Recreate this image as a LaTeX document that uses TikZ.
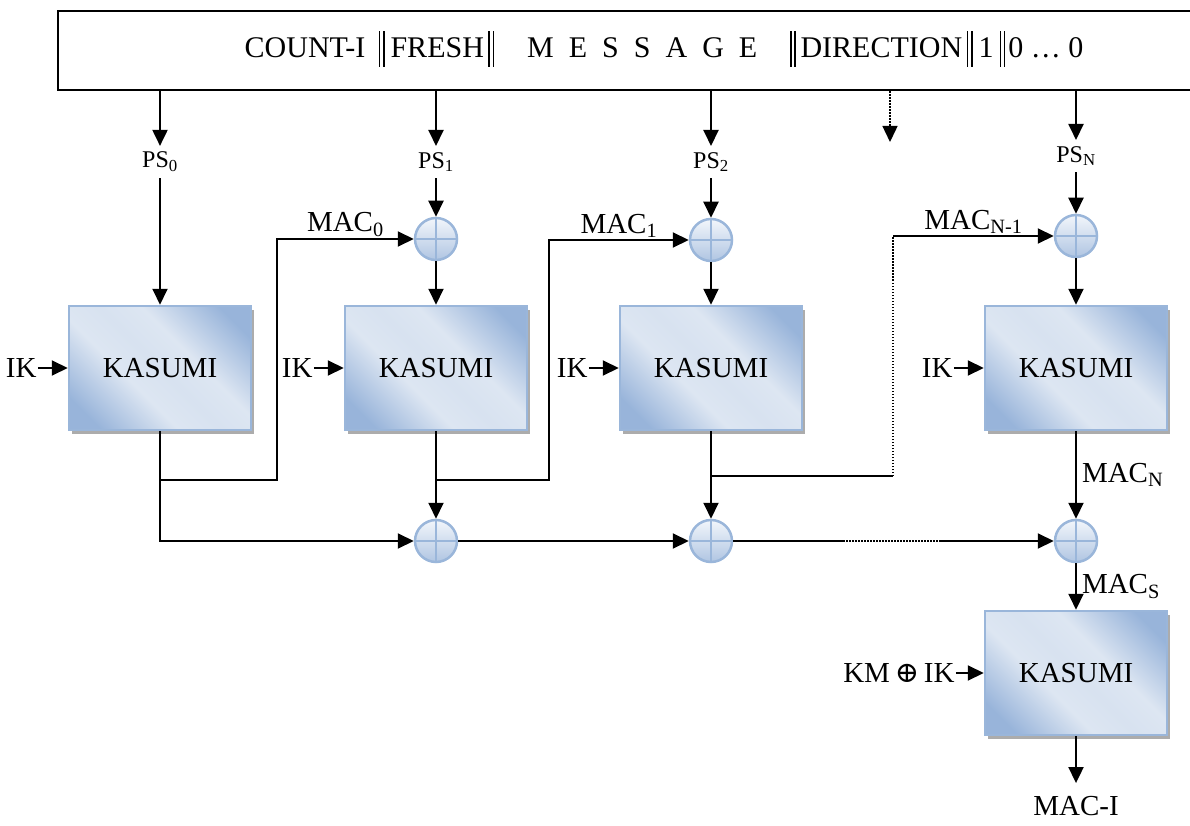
\documentclass[tikz,border=0pt]{standalone}
\usepackage{fontspec}
\setmainfont{Liberation Serif}
\newfontfamily\oplusfont{DejaVu Serif}
\usetikzlibrary{positioning,arrows.meta,shadows}
\definecolor{kasedge}{HTML}{9AB6DA}
\definecolor{kasdark}{HTML}{98B4DA}
\definecolor{kaslight}{HTML}{DDE6F2}
\definecolor{xortop}{HTML}{F2F6FB}
\definecolor{xorbot}{HTML}{B0C5E2}
\pgfdeclarehorizontalshading{kasumishade}{100bp}{color(0bp)=(kasdark); color(22bp)=(kasdark); color(40bp)=(kaslight); color(50bp)=(kaslight!92!kasdark); color(60bp)=(kaslight); color(78bp)=(kasdark); color(100bp)=(kasdark)}
\newcommand{\catbar}{\rule[-9pt]{1.6pt}{36pt}\hspace{2.6pt}\rule[-9pt]{1.6pt}{36pt}}
\begin{document}
\begin{tikzpicture}[
                      x=1pt, y=-1pt,
                      lbl/.style = {font=\fontsize{29}{34}\selectfont, inner sep=1pt},
                      pslbl/.style = {font=\fontsize{24}{28}\selectfont, inner sep=6pt},
                      kasumi/.style = {rectangle, draw=kasedge, line width=2.5pt, shade, shading=kasumishade, shading angle=45,
                                       minimum width=182pt, minimum height=124pt, font=\fontsize{29}{34}\selectfont,
                                       drop shadow={shadow xshift=3pt, shadow yshift=-4pt, fill=gray!65, opacity=1}},
                      xorgate/.style = {circle, draw=kasedge, line width=2.5pt, top color=xortop, bottom color=xorbot,
                                        minimum size=42pt, inner sep=0pt,
                                        path picture={\draw[kasedge, line width=2pt] (path picture bounding box.north) -- (path picture bounding box.south)
                                                      (path picture bounding box.west) -- (path picture bounding box.east);}},
                      wire/.style = {line width=2pt},
                      arr/.style = {wire, -{Triangle[length=16pt, width=15pt]}},
                      dotline/.style = {line width=1.4pt, dash pattern=on 1.5pt off 1.5pt}
                  ]
                  \useasboundingbox (0,0) rectangle (1190,826);
                  \node[draw, line width=2.2pt, minimum width=1150pt, minimum height=79pt, anchor=north west] (msg) at (57,10) {};
                  \node[lbl, font=\fontsize{30}{36}\selectfont] (msgtext) at (664,49) {COUNT-I\hspace{0.45em}\catbar\hspace{0.2em}FRESH\hspace{0.15em}\catbar\hspace{1.1em}M\enspace E\enspace S\enspace S\enspace A\enspace G\enspace E\hspace{1.1em}\catbar\hspace{0.15em}DIRECTION\hspace{0.15em}\catbar\hspace{0.2em}1\hspace{0.2em}\catbar\hspace{0.1em}0 \ldots{} 0};
                  \node[pslbl] (ps0) at (160,162) {PS\textsubscript{0}};
                  \node[pslbl] (ps1) at (436,162) {PS\textsubscript{1}};
                  \node[pslbl] (ps2) at (711,162) {PS\textsubscript{2}};
                  \node[pslbl] (psn) at (1076,156) {PS\textsubscript{N}};
                  \coordinate (dotend) at (890,142);
                  \node[kasumi] (k0) at (160,368) {KASUMI};
                  \node[kasumi] (k1) at (436,368) {KASUMI};
                  \node[kasumi] (k2) at (711,368) {KASUMI};
                  \node[kasumi] (k3) at (1076,368) {KASUMI};
                  \node[kasumi] (k4) at (1076,673) {KASUMI};
                  \node[xorgate] (x1) at (436,239) {};
                  \node[xorgate] (x2) at (711,240) {};
                  \node[xorgate] (x3) at (1076,236) {};
                  \node[xorgate] (s1) at (436,541) {};
                  \node[xorgate] (s2) at (711,541) {};
                  \node[xorgate] (s3) at (1076,541) {};
                  \node[lbl, left=30pt of k0] (ik0) {IK};
                  \node[lbl, left=30pt of k1] (ik1) {IK};
                  \node[lbl, left=30pt of k2] (ik2) {IK};
                  \node[lbl, left=30pt of k3] (ik3) {IK};
                  \node[lbl, left=28pt of k4] (km) {KM\,{\oplusfont ⊕}\,IK};
                  \node[lbl] (maci) at (1076,806) {MAC-I};
                  \coordinate (b0) at (160,480);
                  \coordinate (j0) at (277,480);
                  \coordinate (b1) at (436,480);
                  \coordinate (j1) at (549,480);
                  \coordinate (b2) at (711,476);
                  \coordinate (j2) at (893,476);
                  \coordinate (d1) at (843,541);
                  \coordinate (d2) at (941,541);
                  \foreach \c in {0,1,2,n}
                      \draw[arr] (msg.south -| ps\c) -- (ps\c);
                  \draw[arr, dotline] (msg.south -| dotend) -- (dotend);
                  \draw[arr] (ps0) -- (k0);
                  \draw[arr] (ps1) -- (x1);
                  \draw[arr] (ps2) -- (x2);
                  \draw[arr] (psn) -- (x3);
                  \draw[arr] (x1) -- (k1);
                  \draw[arr] (x2) -- (k2);
                  \draw[arr] (x3) -- (k3);
                  \foreach \c in {0,1,2,3}
                      \draw[arr] (ik\c) -- (k\c);
                  \draw[arr] (km) -- (k4);
                  \draw[arr] (k0) -- (b0) -- (j0) |- node[lbl, above, pos=0.75] {MAC\textsubscript{0}} (x1);
                  \draw[arr] (b0) |- (s1);
                  \draw[arr] (k1) -- (s1);
                  \draw[arr] (b1) -- (j1) |- node[lbl, above, pos=0.75] {MAC\textsubscript{1}} (x2);
                  \draw[arr] (k2) -- (s2);
                  \draw[wire] (b2) -- (j2);
                  \draw[dotline] (j2) -- (j2 |- x3);
                  \draw[arr] (j2 |- x3) -- node[lbl, above] {MAC\textsubscript{N-1}} (x3);
                  \draw[arr] (k3) -- node[lbl, right=4pt] {MAC\textsubscript{N}} (s3);
                  \draw[arr] (s3) -- node[lbl, right=4pt] {MAC\textsubscript{S}} (k4);
                  \draw[arr, shorten >=12pt] (k4) -- (maci);
                  \draw[arr] (s1) -- (s2);
                  \draw[wire] (s2) -- (d1);
                  \draw[dotline] (d1) -- (d2);
                  \draw[arr] (d2) -- (s3);
              \end{tikzpicture}
\end{document}
